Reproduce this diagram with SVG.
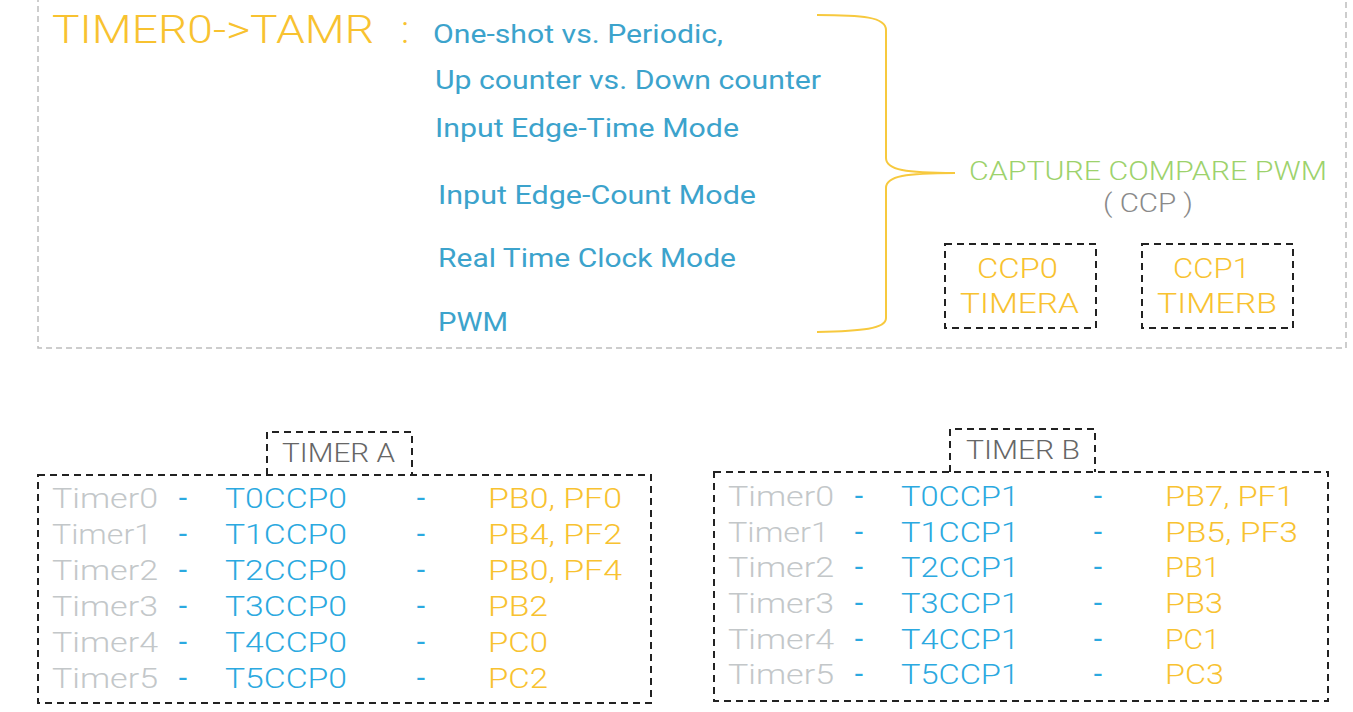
<svg xmlns="http://www.w3.org/2000/svg" width="1353" height="712" viewBox="0 0 1353 712">
<style>
  text { font-family: Roboto, "Liberation Sans", sans-serif; font-weight: 300; }
  .yel { fill: #F8C230; }
  .blu { fill: #2BA9E0; }
  .teal { fill: #3CA3CC; font-weight: 400; }
  .gry { fill: #C3C7C9; }
  .grn { fill: #9DD26C; }
  .dk { fill: #666666; }
  .t28 { font-size: 28px; }
  .t25 { font-size: 25px; }
  .frame { fill: none; stroke: #BDBDBD; stroke-width: 1.5; stroke-dasharray: 6 4; }
  .box { fill: none; stroke: #222222; stroke-width: 2; stroke-dasharray: 7 5; }
  .brace { fill: none; stroke: #F7C93E; stroke-width: 2; }
  .dash { text-anchor: middle; font-weight: 400; font-size: 30px; }
</style>
<rect width="1353" height="712" fill="#FFFFFF"/>

<g id="top-frame">
  <rect class="frame" x="38" y="-10" width="1308" height="358"/>
</g>

<g id="tamr">
  <text class="yel" x="52" y="43" font-size="39" textLength="322" lengthAdjust="spacingAndGlyphs">TIMER0-&gt;TAMR</text>
  <text class="yel" x="401" y="43" font-size="39">:</text>
</g>

<g id="modes">
  <text class="teal t25" x="433" y="43" textLength="290" lengthAdjust="spacingAndGlyphs">One-shot vs. Periodic,</text>
  <text class="teal t25" x="435" y="89" textLength="386" lengthAdjust="spacingAndGlyphs">Up counter vs. Down counter</text>
  <text class="teal t25" x="435" y="137" textLength="304" lengthAdjust="spacingAndGlyphs">Input Edge-Time Mode</text>
  <text class="teal t25" x="438" y="204" textLength="318" lengthAdjust="spacingAndGlyphs">Input Edge-Count Mode</text>
  <text class="teal t25" x="438" y="267" textLength="298" lengthAdjust="spacingAndGlyphs">Real Time Clock Mode</text>
  <text class="teal t25" x="438" y="331" textLength="70" lengthAdjust="spacingAndGlyphs">PWM</text>
</g>

<g id="connectors">
  <path class="brace" d="M817,15 C862,15 886,17 886,30 L886,158 C886,170 906,173 955,173 C906,173 886,176 886,188 L886,318 C886,329 862,331 817,332"/>
</g>

<g id="ccp">
  <text class="grn t25" x="969" y="180" textLength="358" lengthAdjust="spacingAndGlyphs">CAPTURE COMPARE PWM</text>
  <text class="t25" fill="#8A8A8A" x="1103" y="212" textLength="90" lengthAdjust="spacingAndGlyphs">( CCP )</text>
</g>

<g id="ccp0">
  <rect class="box" x="945" y="244" width="151" height="84"/>
  <text class="yel t28" x="977" y="278" textLength="81" lengthAdjust="spacingAndGlyphs">CCP0</text>
  <text class="yel t28" x="960" y="313" textLength="119" lengthAdjust="spacingAndGlyphs">TIMERA</text>
</g>

<g id="ccp1">
  <rect class="box" x="1142" y="244" width="151" height="84"/>
  <text class="yel t28" x="1173" y="278" textLength="77" lengthAdjust="spacingAndGlyphs">CCP1</text>
  <text class="yel t28" x="1157" y="313" textLength="120" lengthAdjust="spacingAndGlyphs">TIMERB</text>
</g>

<g id="timer-a">
  <path class="box" d="M267,475 L267,432 L412,432 L412,475"/>
  <text class="dk t25" x="282" y="462" textLength="113" lengthAdjust="spacingAndGlyphs">TIMER A</text>
  <rect class="box" x="38" y="475" width="613" height="228"/>
  <g class="t28">
    <text class="gry" x="52" y="508" textLength="106" lengthAdjust="spacingAndGlyphs">Timer0</text>
    <text class="gry" x="52" y="544" textLength="100" lengthAdjust="spacingAndGlyphs">Timer1</text>
    <text class="gry" x="52" y="580" textLength="106" lengthAdjust="spacingAndGlyphs">Timer2</text>
    <text class="gry" x="52" y="616" textLength="106" lengthAdjust="spacingAndGlyphs">Timer3</text>
    <text class="gry" x="52" y="652" textLength="106" lengthAdjust="spacingAndGlyphs">Timer4</text>
    <text class="gry" x="52" y="688" textLength="106" lengthAdjust="spacingAndGlyphs">Timer5</text>

    <text class="blu dash" x="183" y="508">-</text>
    <text class="blu dash" x="183" y="544">-</text>
    <text class="blu dash" x="183" y="580">-</text>
    <text class="blu dash" x="183" y="616">-</text>
    <text class="blu dash" x="183" y="652">-</text>
    <text class="blu dash" x="183" y="688">-</text>

    <text class="blu" x="225" y="508" textLength="122" lengthAdjust="spacingAndGlyphs">T0CCP0</text>
    <text class="blu" x="225" y="544" textLength="122" lengthAdjust="spacingAndGlyphs">T1CCP0</text>
    <text class="blu" x="225" y="580" textLength="122" lengthAdjust="spacingAndGlyphs">T2CCP0</text>
    <text class="blu" x="225" y="616" textLength="122" lengthAdjust="spacingAndGlyphs">T3CCP0</text>
    <text class="blu" x="225" y="652" textLength="122" lengthAdjust="spacingAndGlyphs">T4CCP0</text>
    <text class="blu" x="225" y="688" textLength="122" lengthAdjust="spacingAndGlyphs">T5CCP0</text>

    <text class="blu dash" x="421" y="508">-</text>
    <text class="blu dash" x="421" y="544">-</text>
    <text class="blu dash" x="421" y="580">-</text>
    <text class="blu dash" x="421" y="616">-</text>
    <text class="blu dash" x="421" y="652">-</text>
    <text class="blu dash" x="421" y="688">-</text>

    <text class="yel" x="488" y="508" textLength="134" lengthAdjust="spacingAndGlyphs">PB0, PF0</text>
    <text class="yel" x="488" y="544" textLength="134" lengthAdjust="spacingAndGlyphs">PB4, PF2</text>
    <text class="yel" x="488" y="580" textLength="134" lengthAdjust="spacingAndGlyphs">PB0, PF4</text>
    <text class="yel" x="488" y="616" textLength="60" lengthAdjust="spacingAndGlyphs">PB2</text>
    <text class="yel" x="488" y="652" textLength="60" lengthAdjust="spacingAndGlyphs">PC0</text>
    <text class="yel" x="488" y="688" textLength="60" lengthAdjust="spacingAndGlyphs">PC2</text>
  </g>
</g>

<g id="timer-b">
  <path class="box" d="M950,472 L950,429 L1095,429 L1095,472"/>
  <text class="dk t25" x="966" y="459" textLength="114" lengthAdjust="spacingAndGlyphs">TIMER B</text>
  <rect class="box" x="714" y="472" width="614" height="229"/>
  <g class="t28">
    <text class="gry" x="728" y="506" textLength="106" lengthAdjust="spacingAndGlyphs">Timer0</text>
    <text class="gry" x="728" y="542" textLength="101" lengthAdjust="spacingAndGlyphs">Timer1</text>
    <text class="gry" x="728" y="577" textLength="106" lengthAdjust="spacingAndGlyphs">Timer2</text>
    <text class="gry" x="728" y="613" textLength="106" lengthAdjust="spacingAndGlyphs">Timer3</text>
    <text class="gry" x="728" y="649" textLength="106" lengthAdjust="spacingAndGlyphs">Timer4</text>
    <text class="gry" x="728" y="684" textLength="106" lengthAdjust="spacingAndGlyphs">Timer5</text>

    <text class="blu dash" x="859" y="506">-</text>
    <text class="blu dash" x="859" y="542">-</text>
    <text class="blu dash" x="859" y="577">-</text>
    <text class="blu dash" x="859" y="613">-</text>
    <text class="blu dash" x="859" y="649">-</text>
    <text class="blu dash" x="859" y="684">-</text>

    <text class="blu" x="901" y="506" textLength="118" lengthAdjust="spacingAndGlyphs">T0CCP1</text>
    <text class="blu" x="901" y="542" textLength="118" lengthAdjust="spacingAndGlyphs">T1CCP1</text>
    <text class="blu" x="901" y="577" textLength="118" lengthAdjust="spacingAndGlyphs">T2CCP1</text>
    <text class="blu" x="901" y="613" textLength="118" lengthAdjust="spacingAndGlyphs">T3CCP1</text>
    <text class="blu" x="901" y="649" textLength="118" lengthAdjust="spacingAndGlyphs">T4CCP1</text>
    <text class="blu" x="901" y="684" textLength="118" lengthAdjust="spacingAndGlyphs">T5CCP1</text>

    <text class="blu dash" x="1098" y="506">-</text>
    <text class="blu dash" x="1098" y="542">-</text>
    <text class="blu dash" x="1098" y="577">-</text>
    <text class="blu dash" x="1098" y="613">-</text>
    <text class="blu dash" x="1098" y="649">-</text>
    <text class="blu dash" x="1098" y="684">-</text>

    <text class="yel" x="1165" y="506" textLength="129" lengthAdjust="spacingAndGlyphs">PB7, PF1</text>
    <text class="yel" x="1165" y="542" textLength="133" lengthAdjust="spacingAndGlyphs">PB5, PF3</text>
    <text class="yel" x="1165" y="577" textLength="55" lengthAdjust="spacingAndGlyphs">PB1</text>
    <text class="yel" x="1165" y="613" textLength="58" lengthAdjust="spacingAndGlyphs">PB3</text>
    <text class="yel" x="1165" y="649" textLength="55" lengthAdjust="spacingAndGlyphs">PC1</text>
    <text class="yel" x="1165" y="684" textLength="59" lengthAdjust="spacingAndGlyphs">PC3</text>
  </g>
</g>
</svg>
